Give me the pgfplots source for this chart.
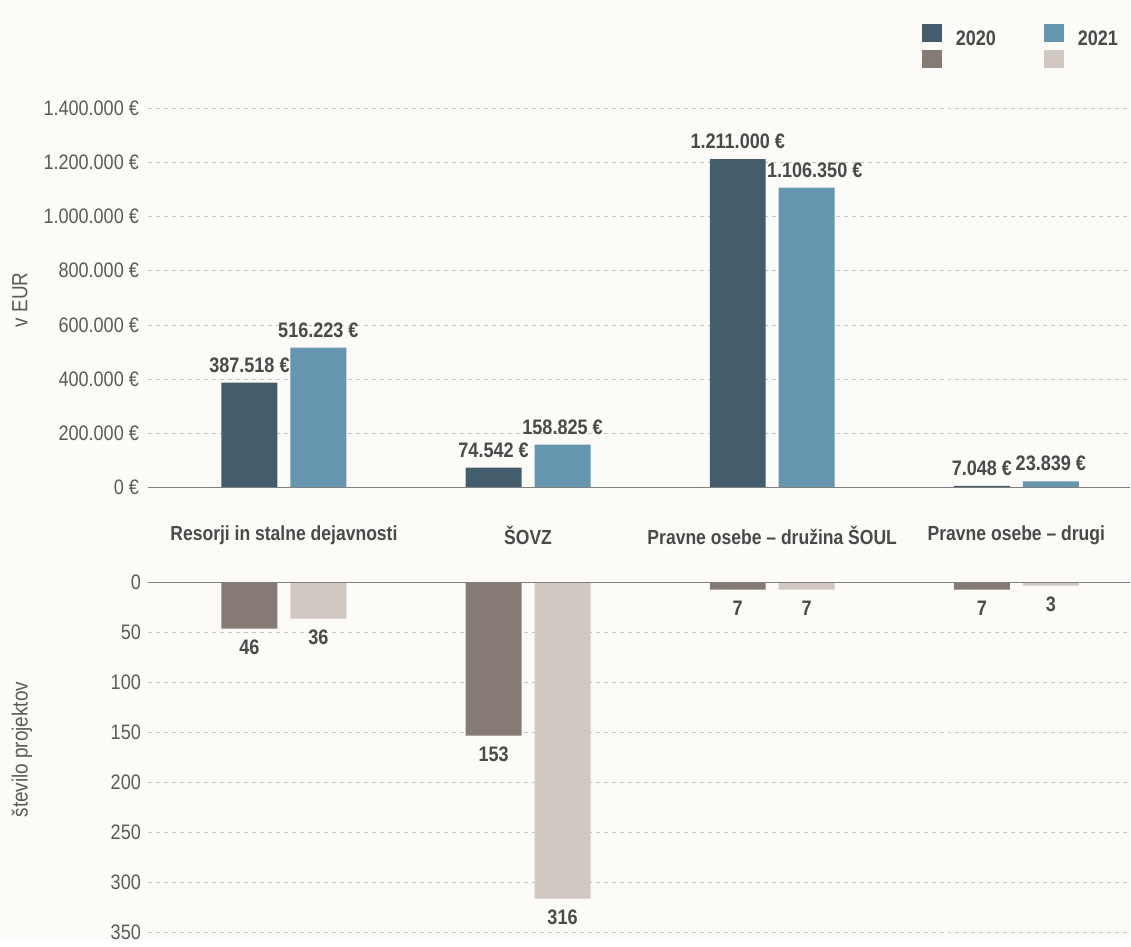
\documentclass[border=0pt]{standalone}
\usepackage{pgfplots}
\pgfplotsset{compat=1.18}
\usepackage{fontspec}
\setmainfont{Liberation Sans}[FakeStretch=0.86]
\definecolor{bg}{HTML}{FCFBF8}
\definecolor{c20}{HTML}{445D6C}
\definecolor{c21}{HTML}{6595AF}
\definecolor{p20}{HTML}{857B74}
\definecolor{p21}{HTML}{D0C8C1}
\definecolor{txt}{HTML}{5A5A5A}
\definecolor{lbl}{HTML}{4A4A4A}
\definecolor{gridc}{HTML}{C4C4C4}

\pgfplotsset{
  base/.style={
    scale only axis,
    width=491.5pt,
    xmin=-0.557, xmax=3.467,
    axis line style={draw=none},
    ymajorgrids,
    major grid style={gridc, dash pattern=on 2pt off 2pt, line width=0.4pt},
    major tick length=0pt,
    tick style={draw=none},
    yticklabel style={font=\fontsize{10.5}{12}\selectfont, text=txt},
    ybar, bar width=28pt,
    nodes near coords,
    every node near coord/.append style={font=\bfseries\fontsize{10.5}{12}\selectfont, text=lbl},
    /pgf/number format/assume math mode=true,
  },
}

\begin{document}
\begin{tikzpicture}
\fill[bg] (0,0) rectangle (565.5pt,-470pt);

% top: funds in EUR
\begin{axis}[base,
  at={(74pt,-244pt)}, anchor=south west,
  height=190pt,
  ymin=0, ymax=1400000,
  clip=false,
  ytick={0,200000,400000,600000,800000,1000000,1200000,1400000},
  yticklabel={\pgfmathprintnumber[1000 sep={.},fixed]{\tick}~€},
  scaled y ticks=false,
  yticklabel style={xshift=-1pt},
  xtick={0,1,2,3},
  xticklabels={Resorji in stalne dejavnosti, ŠOVZ, Pravne osebe – družina ŠOUL, Pravne osebe – drugi},
  xticklabel style={font=\bfseries\fontsize{10.2}{12}\selectfont, text=lbl, yshift=-15.5pt},
  nodes near coords={\pgfmathprintnumber[1000 sep={.},fixed]{\pgfplotspointmeta}~€},
  every node near coord/.append style={yshift=1.5pt},
  point meta=explicit,
  legend style={at={(0.998,1.232)}, anchor=north east, draw=none, fill=none,
    font=\bfseries\fontsize{10.5}{12}\selectfont, text=lbl, row sep=-1pt,
    /tikz/every odd column/.append style={column sep=5pt},
    /tikz/every even column/.append style={column sep=22pt}},
  legend columns=2,
  legend image code/.code={\fill[#1] (0,-1.5pt) rectangle (10pt,7.5pt);},
]
\addplot[fill=c20, draw=none, bar shift=-17.25pt] coordinates
  {(0,387518)[387518] (1,74542)[74542] (2,1211000)[1211000] (3,7048)[7048]};
\addplot[fill=c21, draw=none, bar shift=17.25pt,
  nodes near coords style={xshift={ifthenelse(\coordindex==2,4,0)*1pt}}] coordinates
  {(0,516223)[516223] (1,158825)[158825] (2,1106350)[1106350] (3,23839)[23839]};
\addlegendentry{2020}
\addlegendentry{2021}
\addlegendimage{fill=p20, draw=none}
\addlegendentry{}
\addlegendimage{fill=p21, draw=none}
\addlegendentry{}
\draw[gray, line width=0.6pt] (axis cs:-0.557,0) -- (axis cs:3.467,0);
\end{axis}
\node[rotate=90, font=\fontsize{11}{13}\selectfont, text=txt] at (10pt,-150pt) {v EUR};

% bottom: number of projects
\begin{axis}[base,
  at={(74pt,-291.5pt)}, anchor=north west,
  height=175pt,
  ymin=0, ymax=350,
  y dir=reverse,
  clip=false,
  ytick={0,50,...,350},
  xtick=\empty,
  every node near coord/.append style={anchor=north, yshift=-2pt},
]
\addplot[fill=p20, draw=none, bar shift=-17.25pt] coordinates
  {(0,46) (1,153) (2,7) (3,7)};
\addplot[fill=p21, draw=none, bar shift=17.25pt] coordinates
  {(0,36) (1,316) (2,7) (3,3)};
\draw[gray, line width=0.6pt] (axis cs:-0.557,0) -- (axis cs:3.467,0);
\end{axis}
\node[rotate=90, font=\fontsize{11}{13}\selectfont, text=txt] at (11pt,-375pt) {število projektov};
\end{tikzpicture}
\end{document}
